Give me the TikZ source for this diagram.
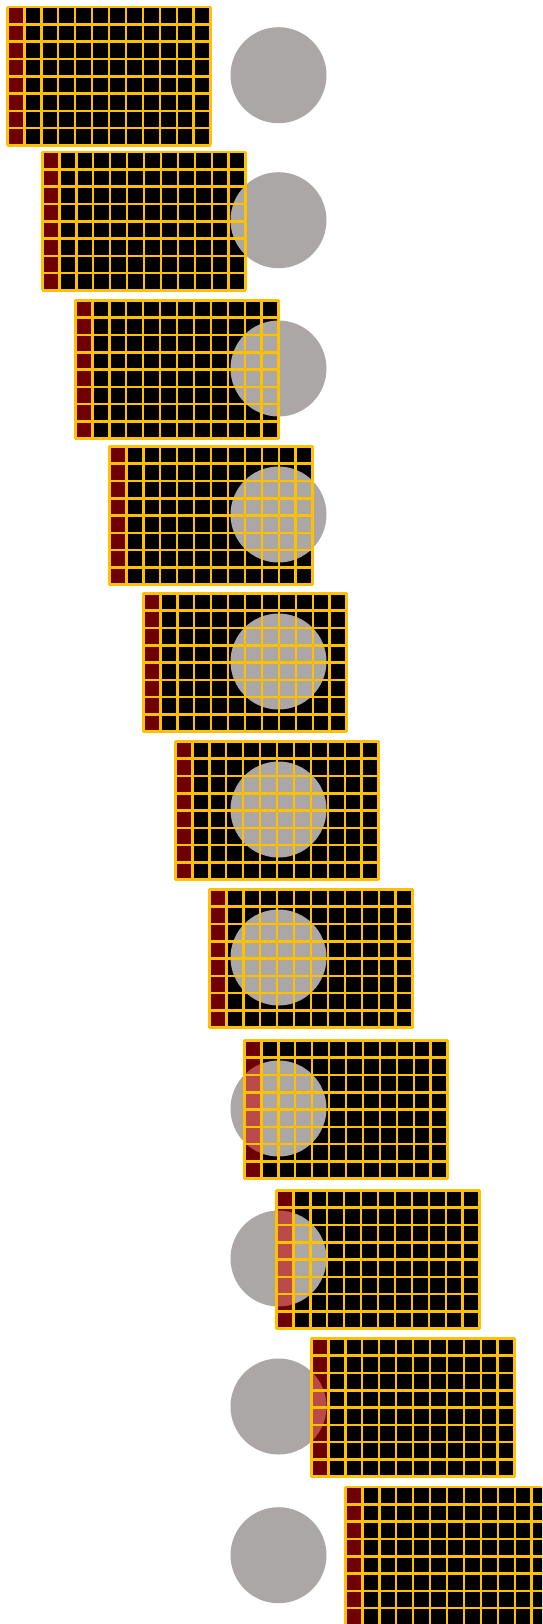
\documentclass[tikz,border=0pt]{standalone}
\usepackage{tikz}
\definecolor{gridgold}{RGB}{255,192,0}
\definecolor{blobgray}{RGB}{171,167,166}
\definecolor{keyred}{RGB}{200,0,0}
\newcommand{\cellW}{16.95}
\newcommand{\cellH}{17.3}

\begin{document}
\begin{tikzpicture}[x=0.5pt,y=-0.5pt,
  gridbg/.style={fill=black},
  blobfill/.style={fill=blobgray},
  keyfill/.style={fill=keyred,opacity=.55},
  gridline/.style={draw=gridgold,line width=1.3pt}]
  \useasboundingbox (0,0) rectangle (542,1624);
  \clip (0,0) rectangle (542,1624);
  \foreach \ex/\ey in {6/5.7,41/150.7,74/299,108/445,142/592,174/740,
                       208/888,243/1039,275/1189,310/1337,344/1485.7}{
    \pgfmathsetmacro{\gx}{\ex+1.3}
    \pgfmathsetmacro{\gy}{\ey+1.3}
    \path[gridbg] (\gx,\gy) rectangle ++(203.4,138.4);
    \path[blobfill] (278.5,\ey+69.5) circle (48);
    \path[keyfill] (\gx,\gy) rectangle ++(\cellW,138.4);
    \foreach \c in {0,...,12} \draw[gridline] (\gx+\c*\cellW,\gy) -- ++(0,138.4);
    \foreach \r in {0,...,8} \draw[gridline] (\gx,\gy+\r*\cellH) -- ++(203.4,0);
  }
\end{tikzpicture}
\end{document}
